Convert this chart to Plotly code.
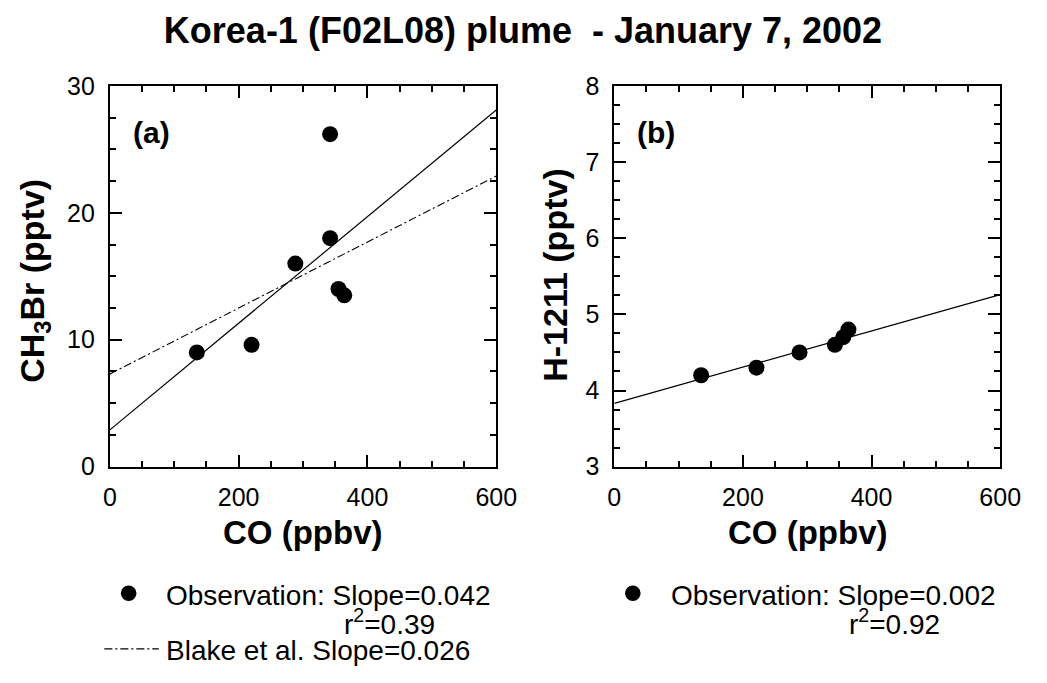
import plotly.graph_objects as go

# ---------------- data ----------------
co_a = [135, 220, 288, 342, 342, 355, 364]
ch3br = [9.0, 9.6, 16.0, 18.0, 26.2, 14.0, 13.5]
co_b = [135, 221, 288, 343, 356, 364]
h1211 = [4.2, 4.3, 4.5, 4.6, 4.7, 4.8]
fit_x = [0, 600]
fit_a = [2.9, 28.1]      # observation fit, slope 0.042
blake_a = [7.3, 22.9]    # Blake et al., slope 0.026
fit_b = [3.83, 5.26]     # observation fit, slope 0.002
x_ticks = [0, 200, 400, 600]
ya_ticks = [0, 10, 20, 30]
yb_ticks = [3, 4, 5, 6, 7, 8]

# ---------------- layout helpers ----------------
W, H = 1047, 683
FONT = "Liberation Sans, Arial, sans-serif"


def px(x):
    return x / W


def py(y):
    return 1 - y / H


fig = go.Figure()
fig.add_trace(go.Scatter(x=co_a, y=ch3br, mode="markers", xaxis="x", yaxis="y",
                         marker=dict(size=16, color="black"), showlegend=False))
fig.add_trace(go.Scatter(x=fit_x, y=fit_a, mode="lines", xaxis="x", yaxis="y",
                         line=dict(color="black", width=1.2), showlegend=False))
fig.add_trace(go.Scatter(x=fit_x, y=blake_a, mode="lines", xaxis="x", yaxis="y",
                         line=dict(color="black", width=1.1, dash="8px,3px,2px,3px"),
                         showlegend=False))
fig.add_trace(go.Scatter(x=co_b, y=h1211, mode="markers", xaxis="x2", yaxis="y2",
                         marker=dict(size=16, color="black"), showlegend=False))
fig.add_trace(go.Scatter(x=fit_x, y=fit_b, mode="lines", xaxis="x2", yaxis="y2",
                         line=dict(color="black", width=1.2), showlegend=False))

axis_common = dict(
    showline=True, linecolor="black", linewidth=2, mirror="allticks",
    ticks="inside", ticklen=12, tickwidth=1.5, tickcolor="black",
    showgrid=False, zeroline=False, fixedrange=True,
    tickfont=dict(family=FONT, size=25, color="black"),
)

yd = [py(472), py(75)]
fig.update_layout(
    width=W, height=H,
    margin=dict(l=0, r=0, t=0, b=0),
    paper_bgcolor="white", plot_bgcolor="white",
    font=dict(family=FONT, color="black"),
    xaxis=dict(domain=[px(105.7), px(502.7)], range=[0, 600], tickvals=x_ticks,
               anchor="y", ticklabelstandoff=7,
               minor=dict(dtick=50, ticks="inside", ticklen=6, tickwidth=1.5, tickcolor="black"),
               **axis_common),
    yaxis=dict(domain=yd, range=[0, 30], tickvals=ya_ticks, anchor="x",
               ticklabelstandoff=8,
               minor=dict(dtick=2.5, ticks="inside", ticklen=6, tickwidth=1.5, tickcolor="black"),
               **axis_common),
    xaxis2=dict(domain=[px(624), px(1020.5)], range=[0, 600], tickvals=x_ticks,
                anchor="y2", ticklabelstandoff=7,
                minor=dict(dtick=50, ticks="inside", ticklen=6, tickwidth=1.5, tickcolor="black"),
                **axis_common),
    yaxis2=dict(domain=yd, range=[3, 8], tickvals=yb_ticks, anchor="x2",
                ticklabelstandoff=8,
                minor=dict(dtick=0.25, ticks="inside", ticklen=6, tickwidth=1.5, tickcolor="black"),
                **axis_common),
    title=dict(text="Korea-1 (F02L08) plume  - January 7, 2002",
               x=px(523), xanchor="center", y=py(30), yanchor="middle",
               font=dict(family=FONT, size=36, color="black", weight="bold")),
    showlegend=False,
)

ann = []
bold30 = dict(family=FONT, size=30, color="black", weight="bold")
bold33 = dict(family=FONT, size=33, color="black", weight="bold")
bold34 = dict(family=FONT, size=34, color="black", weight="bold")
leg = dict(family=FONT, size=28, color="black")
# panel labels
ann.append(dict(text="(a)", xref="paper", yref="paper", x=px(127), y=py(124),
                xanchor="left", yanchor="middle", showarrow=False, font=bold30))
ann.append(dict(text="(b)", xref="paper", yref="paper", x=px(645), y=py(124),
                xanchor="left", yanchor="middle", showarrow=False, font=bold30))
# axis titles
ann.append(dict(text="CO (ppbv)", xref="paper", yref="paper", x=px(304), y=py(541),
                xanchor="center", yanchor="middle", showarrow=False, font=bold33))
ann.append(dict(text="CO (ppbv)", xref="paper", yref="paper", x=px(822), y=py(541),
                xanchor="center", yanchor="middle", showarrow=False, font=bold33))
ann.append(dict(text="CH<sub>3</sub>Br (pptv)", xref="paper", yref="paper", x=px(28), y=py(278),
                xanchor="center", yanchor="middle", textangle=-90, showarrow=False, font=bold34))
ann.append(dict(text="H-1211 (pptv)", xref="paper", yref="paper", x=px(563), y=py(272),
                xanchor="center", yanchor="middle", textangle=-90, showarrow=False, font=bold34))
# legend texts
ann.append(dict(text="Observation: Slope=0.042", xref="paper", yref="paper", x=px(161), y=py(606),
                xanchor="left", yanchor="middle", showarrow=False, font=leg))
ann.append(dict(text="r<sup>2</sup>=0.39", xref="paper", yref="paper", x=px(344), y=py(634),
                xanchor="left", yanchor="middle", showarrow=False, font=leg))
ann.append(dict(text="Blake et al. Slope=0.026", xref="paper", yref="paper", x=px(161), y=py(664),
                xanchor="left", yanchor="middle", showarrow=False, font=leg))
ann.append(dict(text="Observation: Slope=0.002", xref="paper", yref="paper", x=px(680), y=py(606),
                xanchor="left", yanchor="middle", showarrow=False, font=leg))
ann.append(dict(text="r<sup>2</sup>=0.92", xref="paper", yref="paper", x=px(863), y=py(634),
                xanchor="left", yanchor="middle", showarrow=False, font=leg))
fig.update_layout(annotations=ann)

# legend symbols
shapes = [
    dict(type="circle", xref="paper", yref="paper", x0=px(117), x1=px(133), y0=py(612), y1=py(596),
         fillcolor="black", line=dict(color="black", width=0)),
    dict(type="line", xref="paper", yref="paper", x0=px(100), x1=px(156), y0=py(662), y1=py(662),
         line=dict(color="black", width=1.1, dash="8px,3px,2px,3px")),
    dict(type="circle", xref="paper", yref="paper", x0=px(635), x1=px(651), y0=py(612), y1=py(596),
         fillcolor="black", line=dict(color="black", width=0)),
]
fig.update_layout(shapes=shapes)

fig.write_html("out.html")
